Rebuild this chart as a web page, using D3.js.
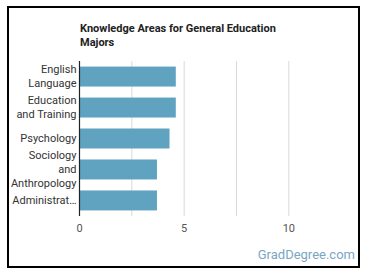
<!DOCTYPE html>
<html><head><meta charset="utf-8">
<script src="https://cdn.jsdelivr.net/npm/d3@7"></script>
<style>html,body{margin:0;padding:0;background:#fff;}svg{display:block;font-family:Roboto,sans-serif;}</style>
</head><body>
<svg id="c" width="370" height="278"></svg>
<script>
const categories = ["English Language","Education and Training","Psychology","Sociology and Anthropology","Administration and Management"];
const labelLines = [["English","Language"],["Education","and Training"],["Psychology"],["Sociology","and","Anthropology"],["Administrat…"]];
const values = [4.6, 4.6, 4.3, 3.7, 3.7];
const xTicks = [0, 5, 10];
const gridTicks = [0, 2.5, 5, 7.5, 10];
const titleLines = ["Knowledge Areas for General Education","Majors"];

const svg = d3.select("#c");
svg.append("rect").attr("x",8).attr("y",7).attr("width",351).attr("height",260)
  .attr("fill","#fff").attr("stroke","#000").attr("stroke-width",2);

const x = d3.scaleLinear().domain([0,12]).range([79.5,330.7]);
const y = d3.scaleBand().domain(categories).range([61,216]).paddingInner(0.355).paddingOuter(0.18);

svg.append("g").selectAll("line").data(gridTicks).join("line")
  .attr("x1",d=>x(d)).attr("x2",d=>x(d)).attr("y1",61).attr("y2",216)
  .attr("stroke","#d9d9d9").attr("stroke-width",1);

svg.append("g").selectAll("rect").data(categories).join("rect")
  .attr("x",x(0)).attr("y",d=>y(d)).attr("height",y.bandwidth())
  .attr("width",(d,i)=>x(values[i])-x(0)).attr("fill","#5fa3c1");

svg.append("line").attr("x1",x(0)).attr("x2",x(0)).attr("y1",61).attr("y2",216)
  .attr("stroke","#222").attr("stroke-width",1.2);

const lab = svg.append("g").attr("font-size",11).attr("fill","#333").attr("text-anchor","end");
categories.forEach((c,i)=>{
  const lines = labelLines[i];
  const cy = y(c)+y.bandwidth()/2;
  const lh = 14;
  lines.forEach((t,j)=>{
    lab.append("text").attr("x",76.5).attr("y",cy+(j-(lines.length-1)/2)*lh).attr("dy","0.35em").text(t);
  });
});

svg.append("g").selectAll("text").data(xTicks).join("text")
  .attr("x",d=>x(d)).attr("y",232).attr("text-anchor","middle")
  .attr("font-size",11).attr("fill","#555").text(d=>d);

svg.append("g").selectAll("text").data(titleLines).join("text")
  .attr("x",80).attr("y",(d,i)=>32+i*14).attr("font-size",11).attr("font-weight","bold")
  .attr("fill","#222").text(d=>d);

svg.append("text").attr("x",355).attr("y",259).attr("text-anchor","end")
  .attr("font-size",13).attr("fill","#7aa6c6").text("GradDegree.com");
</script>
</body></html>
